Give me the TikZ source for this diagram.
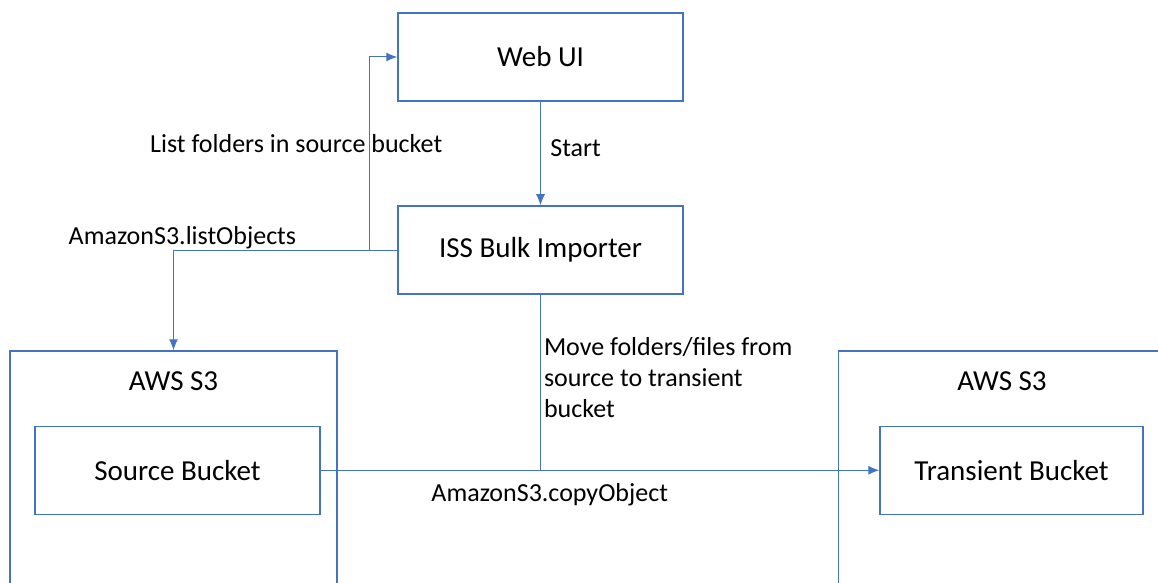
\documentclass[tikz,border=0pt]{standalone}
\usepackage{fontspec}
\setmainfont{Carlito}
\usetikzlibrary{arrows.meta,positioning}
\definecolor{awsblue}{HTML}{4472C4}
\tikzstyle{box} = [rectangle, draw=awsblue, line width=1.5pt, minimum width=285pt,
                   minimum height=88pt, font=\fontsize{29}{35}\selectfont]
\tikzstyle{outer} = [box, minimum width=327pt, minimum height=300pt]
\tikzstyle{title} = [font=\fontsize{29}{35}\selectfont]
\tikzstyle{line} = [draw=awsblue, line width=1pt, -{Latex[length=11pt,width=9pt]}]
\tikzstyle{plain} = [draw=awsblue, line width=1pt]
\tikzstyle{lbl} = [font=\fontsize{26}{31}\selectfont, text=black]

\begin{document}
\begin{tikzpicture}[x=1pt, y=1pt, node distance=193pt]
\useasboundingbox (0,0) rectangle (1158,582);
\clip (0,0) rectangle (1158,582);

\node [box] (webui) at (540.5,525) {Web UI};
\node [box, below of=webui] (importer) {ISS Bulk Importer};

\node [outer] (s3src) at (173.5,81) {};
\node [title] (srctitle) at ([yshift=-31]s3src.north) {AWS S3};
\node [box] (srcbucket) at ([xshift=4, yshift=-120]s3src.north) {Source Bucket};

\node [outer] (s3trn) at (1002,81) {};
\node [title] (trntitle) at ([yshift=-31]s3trn.north) {AWS S3};
\node [box, minimum width=263pt] (trnbucket) at ([xshift=9.5, yshift=-120]s3trn.north) {Transient Bucket};

\path [line] (webui) -- node [lbl, right, pos=0.45, xshift=6] {Start} (importer);
\path [line] (importer.west) -- ++(-28,0) |- node [lbl, pos=0.277, xshift=-73] {List folders in source bucket} (webui.west);
\path [line] (importer.west) -| node [lbl, above, pos=0.48, inner sep=1pt] {AmazonS3.listObjects} (s3src.north);
\path [line] (srcbucket.east) -- node [lbl, below, pos=0.41, yshift=-9] {AmazonS3.copyObject} (trnbucket.west);
\draw [plain] (importer.south) -- node [lbl, right, align=left, pos=0.47, inner sep=3pt]
      {Move folders/files from\\source to transient\\bucket} (importer.south |- srcbucket.east);

\end{tikzpicture}
\end{document}
